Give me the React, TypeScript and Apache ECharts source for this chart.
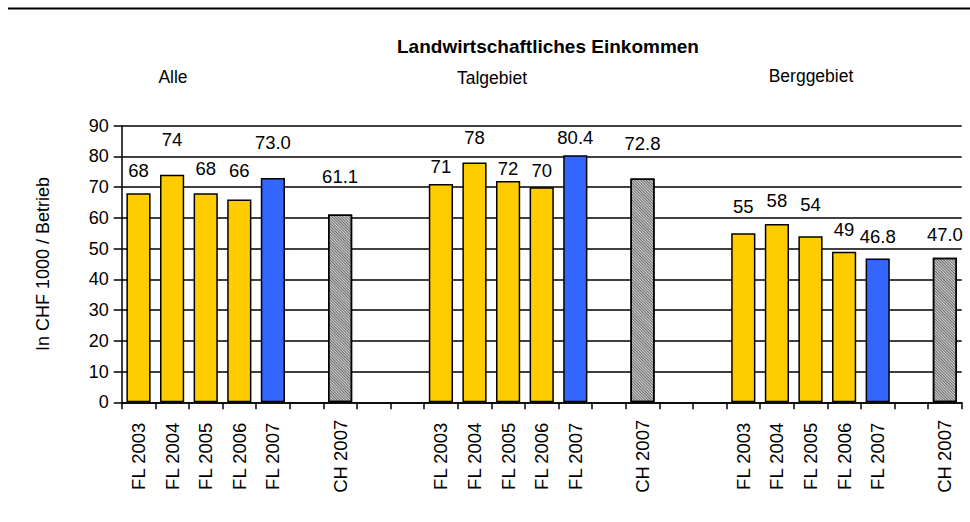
import React, { useEffect, useRef } from "react";
import * as echarts from "echarts";

const title = "Landwirtschaftliches Einkommen";
const regionNames = ["Alle", "Talgebiet", "Berggebiet"];
const flLabels = ["FL 2003", "FL 2004", "FL 2005", "FL 2006", "FL 2007"];
const chLabel = "CH 2007";
const yAxisName = "In CHF 1000 / Betrieb";
const yTicks = [0, 10, 20, 30, 40, 50, 60, 70, 80, 90];

// values per region: FL 2003..2007, then CH 2007
const alleValues = [68, 74, 68, 66, 73.0, 61.1];
const talValues = [71, 78, 72, 70, 80.4, 72.8];
const bergValues = [55, 58, 54, 49, 46.8, 47.0];

// label vertical lift in px (styling, kept apart from data)
const alleLift = [14, 26, 16, 20, 26, 29];
const talLift = [9, 16, 4, 8, 9, 26];
const bergLift = [18, 15, 23, 13, 13, 14];

const regionLabelPos = [
  [173, 77],
  [492, 78],
  [811, 76],
];

const FONT = "'Liberation Sans', Arial, Helvetica, sans-serif";

export default function App() {
  const ref = useRef<HTMLDivElement>(null);
  useEffect(() => {
    if (!ref.current) return;
    const chart = echarts.init(ref.current, null, { renderer: "svg" });

    const regions = [alleValues, talValues, bergValues];
    const lifts = [alleLift, talLift, bergLift];
    const categories: string[] = [];
    const data: any[] = [];
    regions.forEach((vals, r) => {
      if (r > 0) {
        categories.push("", "");
        data.push("-", "-");
      }
      vals.forEach((v, i) => {
        if (i === 5) {
          categories.push("");
          data.push("-");
        }
        const isCH = i === 5;
        const is2007 = i === 4;
        categories.push(isCH ? chLabel : flLabels[i]);
        const text = is2007 || isCH ? v.toFixed(1) : v.toFixed(0);
        data.push({
          value: v,
          label: {
            formatter: text,
            offset: [0, -lifts[r][i]],
          },
          itemStyle: isCH
            ? {
                color: "#d4d4d4",
                decal: {
                  symbol: "rect",
                  symbolSize: 1,
                  color: "rgba(0,0,0,0.5)",
                  dashArrayX: [1, 0],
                  dashArrayY: [1, 1],
                  rotation: Math.PI / 4,
                },
              }
            : { color: is2007 ? "#3366FF" : "#FFCC00" },
        });
      });
    });

    const option: any = {
      animation: false,
      backgroundColor: "#ffffff",
      textStyle: { fontFamily: FONT },
      grid: { left: 121.7, right: 8.3, top: 125.7, bottom: 119.7, containLabel: false },
      xAxis: {
        type: "category",
        data: categories,
        boundaryGap: true,
        axisLine: { lineStyle: { color: "#000", width: 1.5 } },
        axisTick: { show: true, interval: 0, length: 7, lineStyle: { color: "#000", width: 1.5 } },
        axisLabel: {
          interval: 0,
          rotate: 90,
          align: "center",
          margin: 54,
          color: "#000",
          fontSize: 18.5,
          fontFamily: FONT,
        },
      },
      yAxis: {
        type: "value",
        min: yTicks[0],
        max: yTicks[yTicks.length - 1],
        interval: 10,
        name: yAxisName,
        nameLocation: "middle",
        nameGap: 70,
        nameRotate: 90,
        nameTextStyle: { color: "#000", fontSize: 18, fontFamily: FONT },
        axisLine: { show: true, lineStyle: { color: "#000", width: 1.5 } },
        axisTick: { show: true, length: 8, lineStyle: { color: "#000", width: 1.5 } },
        axisLabel: { color: "#000", fontSize: 18, margin: 13, fontFamily: FONT },
        splitLine: { show: true, lineStyle: { color: "#000", width: 1.6 } },
      },
      series: [
        {
          type: "bar",
          data,
          barCategoryGap: "28%",
          itemStyle: { borderColor: "#000", borderWidth: 1.5 },
          label: {
            show: true,
            position: "top",
            distance: 0,
            color: "#000",
            fontSize: 18.5,
            lineHeight: 18,
            fontFamily: FONT,
          },
        },
      ],
      graphic: [
        {
          type: "line",
          shape: { x1: 8, y1: 8.5, x2: 970, y2: 8.5 },
          style: { stroke: "#000", lineWidth: 2 },
        },
        {
          type: "text",
          x: 548,
          y: 46,
          style: {
            text: title,
            textAlign: "center",
            textVerticalAlign: "middle",
            font: `bold 19px ${FONT}`,
            fill: "#000",
          },
        },
        ...regionNames.map((n, i) => ({
          type: "text",
          x: regionLabelPos[i][0],
          y: regionLabelPos[i][1],
          style: {
            text: n,
            textAlign: "center",
            textVerticalAlign: "middle",
            font: `17.5px ${FONT}`,
            fill: "#000",
          },
        })),
      ],
    };
    chart.setOption(option);
    return () => chart.dispose();
  }, []);
  return (
    <div
      ref={ref}
      style={{ width: 970, height: 522, position: "absolute", left: 0, top: 0 }}
    />
  );
}
